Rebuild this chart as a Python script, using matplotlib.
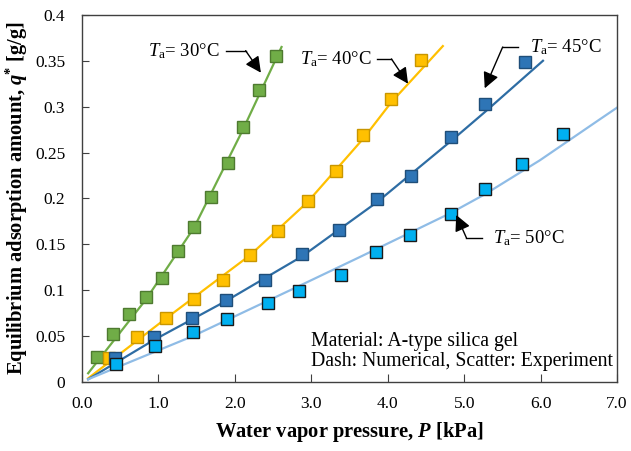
import numpy as np
import matplotlib
matplotlib.use("Agg")
import matplotlib.pyplot as plt

plt.rcParams['font.family'] = ['Liberation Serif', 'DejaVu Serif']
plt.rcParams['mathtext.fontset'] = 'custom'
plt.rcParams['mathtext.rm'] = 'Liberation Serif'
plt.rcParams['mathtext.it'] = 'Liberation Serif:italic'
plt.rcParams['mathtext.bf'] = 'Liberation Serif:bold'
plt.rcParams['mathtext.bfit'] = 'Liberation Serif:bold:italic'

# Experimental data (scatter)
p30 = [0.196, 0.405, 0.614, 0.837, 1.046, 1.255, 1.464, 1.686, 1.908, 2.105, 2.314, 2.536]
q30 = [0.0273, 0.0524, 0.0742, 0.0928, 0.1135, 0.143, 0.1692, 0.202, 0.239, 0.2773, 0.3177, 0.3548]
p40 = [0.353, 0.715, 1.094, 1.468, 1.847, 2.196, 2.566, 2.95, 3.316, 3.677, 4.048, 4.44]
q40 = [0.0259, 0.0495, 0.0702, 0.0903, 0.1114, 0.1386, 0.1648, 0.1976, 0.2303, 0.2686, 0.3079, 0.3504]
p45 = [0.431, 0.945, 1.434, 1.878, 2.392, 2.88, 3.363, 3.86, 4.31, 4.833, 5.268, 5.791]
q45 = [0.0259, 0.0488, 0.0702, 0.0888, 0.1114, 0.1397, 0.1652, 0.1998, 0.2249, 0.2667, 0.3032, 0.349]
p50 = [0.444, 0.954, 1.455, 1.891, 2.435, 2.837, 3.386, 3.852, 4.288, 4.824, 5.277, 5.761, 6.292]
q50 = [0.0193, 0.0396, 0.0549, 0.0688, 0.0859, 0.0993, 0.1168, 0.1412, 0.1597, 0.1834, 0.2104, 0.238, 0.2707]

# Numerical curves
np30 = [0.08, 0.837, 1.464, 2.105, 2.61]
nq30 = [0.0095, 0.090, 0.168, 0.275, 0.365]
np40 = [0.08, 1.094, 2.196, 2.95, 3.677, 4.048, 4.72]
nq40 = [0.004, 0.069, 0.138, 0.196, 0.265, 0.305, 0.366]
np45 = [0.08, 0.945, 1.878, 2.88, 3.86, 4.833, 5.268, 6.03]
nq45 = [0.003, 0.046, 0.088, 0.137, 0.196, 0.263, 0.294, 0.350]
np50 = [0.08, 1.45, 2.85, 3.63, 4.82, 5.28, 5.99, 6.77, 7.0]
nq50 = [0.003, 0.050, 0.105, 0.136, 0.184, 0.205, 0.2416, 0.286, 0.299]

xticks = [0, 1, 2, 3, 4, 5, 6, 7]
xticklabels = ['0.0', '1.0', '2.0', '3.0', '4.0', '5.0', '6.0', '7.0']
yticks = [0, 0.05, 0.1, 0.15, 0.2, 0.25, 0.3, 0.35, 0.4]
yticklabels = ['0', '0.05', '0.1', '0.15', '0.2', '0.25', '0.3', '0.35', '0.4']

fig = plt.figure(figsize=(6.31, 4.51), dpi=100)
ax = fig.add_axes([0.13, 0.153, 0.848, 0.814])

series = [
    (np30, nq30, p30, q30, '#70AD47', '#70AD47', '#4E7A30'),
    (np40, nq40, p40, q40, '#FFC000', '#FFC000', '#C89600'),
    (np45, nq45, p45, q45, '#2E6DA4', '#2E75B6', '#1F4E79'),
    (np50, nq50, p50, q50, '#8FBCE6', '#00B0F0', '#1A1A1A'),
]
for nx, ny, ex, ey, lc, fc, ec in series:
    ax.plot(nx, ny, color=lc, lw=1.6, zorder=2)
    ax.plot(ex, ey, ls='none', marker='s', ms=8, mfc=fc, mec=ec, mew=1.0, zorder=3)

ax.set_xlim(0, 7)
ax.set_ylim(0, 0.4)
ax.set_xticks(xticks)
ax.set_xticklabels(xticklabels)
ax.set_yticks(yticks)
ax.set_yticklabels(yticklabels)
ax.tick_params(axis='x', direction='in', length=6, labelsize=12.5, pad=10, color='#404040')
ax.tick_params(axis='y', direction='in', length=5, labelsize=12.5, pad=12, color='#404040')
for s in ax.spines.values():
    s.set_color('#404040')
    s.set_linewidth(1.0)

ax.set_xlabel(r'Water vapor pressure, $\mathbfit{P}$ [kPa]', fontsize=14.8, fontweight='bold', labelpad=6)
ax.set_ylabel(r'Equilibrium adsorption amount, $\mathbfit{q}^{\mathbf{*}}$ [g/g]', fontsize=14.8, fontweight='bold', labelpad=4)

# Annotations
def label(txt_x, txt_y, ha, t, start, bend, tip):
    ax.text(txt_x, txt_y, r'$\mathit{T}_{\mathrm{a}}$= ' + t, fontsize=13.5, ha=ha, va='center')
    ax.plot([start[0], bend[0]], [start[1], bend[1]], color='black', lw=1.0)
    ax.annotate('', xy=tip, xytext=bend,
                arrowprops=dict(arrowstyle='-|>,head_length=0.6,head_width=0.3', color='black', lw=1.0,
                                mutation_scale=16, shrinkA=0, shrinkB=0))

label(1.80, 0.361, 'right', '30°C', (1.878, 0.361), (2.14, 0.361), (2.34, 0.337))
label(3.79, 0.352, 'right', '40°C', (3.856, 0.352), (4.048, 0.352), (4.265, 0.325))
label(5.86, 0.365, 'left', '45°C', (5.70, 0.365), (5.503, 0.365), (5.268, 0.320))
label(5.38, 0.157, 'left', '50°C', (5.238, 0.157), (5.029, 0.157), (4.895, 0.182))

ax.text(3.0, 0.0437, 'Material: A-type silica gel', fontsize=14.2, ha='left', va='center')
ax.text(3.0, 0.0218, 'Dash: Numerical, Scatter: Experiment', fontsize=14.2, ha='left', va='center')

fig.savefig('out.png', dpi=100)
